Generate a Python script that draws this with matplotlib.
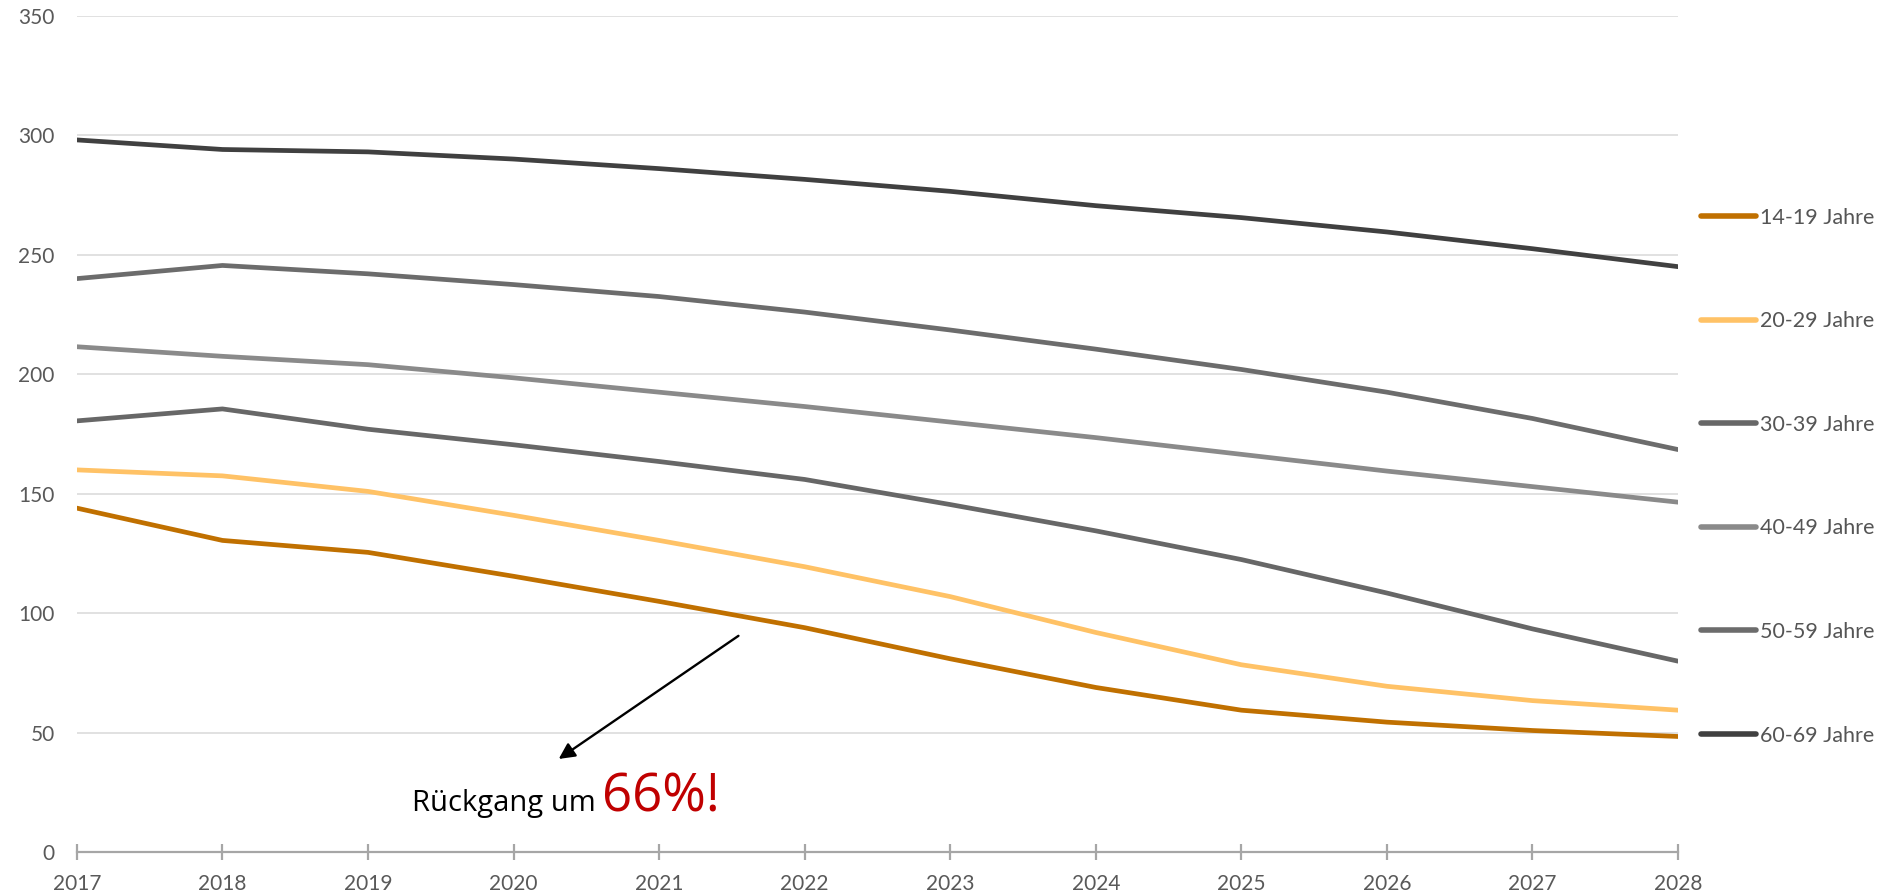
import matplotlib
matplotlib.use('Agg')
import matplotlib.pyplot as plt

# Bevölkerung nach Altersgruppen, Prognose 2017-2028
years = [2017, 2018, 2019, 2020, 2021, 2022, 2023, 2024, 2025, 2026, 2027, 2028]
age_14_19 = [144, 130.5, 125.5, 115.5, 105, 94, 81, 69, 59.5, 54.5, 51, 48.5]
age_20_29 = [160, 157.5, 151, 141, 130.5, 119.5, 107, 92, 78.5, 69.5, 63.5, 59.5]
age_30_39 = [180.5, 185.5, 177, 170.5, 163.5, 156, 145.5, 134.5, 122.5, 108.5, 93.5, 80]
age_40_49 = [211.5, 207.5, 204, 198.5, 192.5, 186.5, 180, 173.5, 166.5, 159.5, 153, 146.5]
age_50_59 = [240, 245.5, 242, 237.5, 232.5, 226, 218.5, 210.5, 202, 192.5, 181.5, 168.5]
age_60_69 = [298, 294, 293, 290, 286, 281.5, 276.5, 270.5, 265.5, 259.5, 252.5, 245]

labels = ['14-19 Jahre', '20-29 Jahre', '30-39 Jahre', '40-49 Jahre', '50-59 Jahre', '60-69 Jahre']
series = [age_14_19, age_20_29, age_30_39, age_40_49, age_50_59, age_60_69]
colors = ['#C07000', '#FFC266', '#676767', '#8a8a8a', '#6c6c6c', '#404040']

yticks = [0, 50, 100, 150, 200, 250, 300, 350]

plt.rcParams['font.family'] = ['Lato', 'DejaVu Sans']

fig = plt.figure(figsize=(18.85, 8.96), dpi=100)
ax = fig.add_axes([0.0408, 0.0486, 0.8494, 0.9340])

for vals, lab, col in zip(series, labels, colors):
    ax.plot(years, vals, color=col, lw=3.4, label=lab,
            solid_capstyle='round', solid_joinstyle='round', zorder=3)

ax.set_xlim(years[0], years[-1])
ax.set_ylim(0, 350)
ax.set_xticks(years)
ax.set_yticks(yticks)
ax.set_xticklabels([str(y) for y in years])

ax.grid(axis='y', color='#d9d9d9', lw=1.1, zorder=0)
ax.set_axisbelow(True)
for s in ['left', 'right', 'top']:
    ax.spines[s].set_visible(False)
ax.spines['bottom'].set_color('#a6a6a6')
ax.spines['bottom'].set_linewidth(1.6)
ax.spines['bottom'].set_zorder(4)

ax.tick_params(axis='y', length=0, pad=16, labelsize=15, labelcolor='#595959')
ax.tick_params(axis='x', direction='inout', length=11, width=1.6, color='#a6a6a6',
               pad=10, labelsize=15, labelcolor='#595959')

# Legende rechts neben dem Diagramm
leg = ax.legend(loc='upper left', bbox_to_anchor=(0.9024, 0.768),
                bbox_transform=fig.transFigure, frameon=False,
                fontsize=15.5, handlelength=2.56, handletextpad=0.2,
                labelspacing=3.88, borderpad=0, borderaxespad=0)
for t in leg.get_texts():
    t.set_color('#555555')
for h in leg.get_lines():
    h.set_linewidth(4)

# Hinweis auf den Rückgang der 14-19-Jährigen
ax.annotate('', xy=(2020.31, 39.1), xytext=(2021.545, 90.6),
            arrowprops=dict(arrowstyle='-|>', mutation_scale=24, lw=1.7,
                            color='black', shrinkA=0, shrinkB=0), zorder=5)
ax.text(2019.30, 17.3, 'Rückgang um', fontsize=21, color='black',
        family=['Open Sans', 'DejaVu Sans'], va='baseline', ha='left')
ax.text(2020.605, 17.3, '66%!', fontsize=38, color='#C00000',
        family=['Open Sans', 'DejaVu Sans'], va='baseline', ha='left')

fig.savefig('out.png', dpi=100)
